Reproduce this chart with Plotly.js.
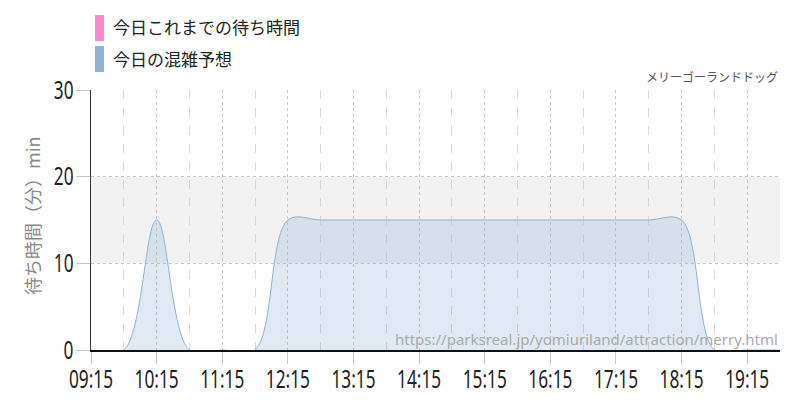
<!DOCTYPE html>
<html><head><meta charset="utf-8">
<script src="https://cdn.plot.ly/plotly-3.0.1.min.js"></script>
<style>body{margin:0;background:#fff}#c{width:800px;height:400px}</style>
</head><body><div id="c"></div>
<script>
const times = ['09:15','09:45','10:15','10:45','11:15','11:45','12:15','12:45','13:15','13:45','14:15','14:45','15:15','15:45','16:15','16:45','17:15','17:45','18:15','18:45','19:15','19:45'];
const forecast = [0,0,15,0,0,0,15,15,15,15,15,15,15,15,15,15,15,15,15,0,0,0];
const actualTimes = [];
const actual = [];
const legendNames = ['今日これまでの待ち時間','今日の混雑予想'];
const legendColors = ['#ff88cc','#8fb3d3'];
const attraction = 'メリーゴーランドドッグ';
const sourceUrl = 'https://parksreal.jp/yomiuriland/attraction/merry.html';
const yTitle = '待ち時間（分）min';
const yTicks = [0,10,20,30];
const day = '2024-01-01 ';

const tickFont = {family:'"Noto Sans","DejaVu Sans",sans-serif', size:25, color:'#222'};
const jp = '"Noto Sans CJK JP","Noto Sans",sans-serif';

const traces = [
  {x: times.map(t=>day+t), y: forecast, type:'scatter', mode:'lines', line:{shape:'spline', smoothing:1, color:'#8fb3d3', width:1}, fill:'tozeroy', fillcolor:'rgba(143,179,211,0.28)', hoverinfo:'skip', showlegend:false},
  {x: actualTimes.map(t=>day+t), y: actual, type:'scatter', mode:'lines', line:{color:'#ff88cc'}, showlegend:false}
];

const shapes = [
  {type:'rect', xref:'paper', x0:0, x1:1, yref:'y', y0:10, y1:20, fillcolor:'#f2f2f2', line:{width:0}, layer:'below'}
];
const annotations = [];
legendNames.forEach((n,i)=>{
  shapes.push({type:'rect', xref:'paper', yref:'paper', x0:(95-91)/689, x1:(104-91)/689, y0:(350-(15+i*31))/260, y1:(350-(41+i*31))/260, fillcolor:legendColors[i], line:{width:0}});
  annotations.push({xref:'paper', yref:'paper', x:(111-91)/689, y:(350-(27+i*32))/260, xanchor:'left', yanchor:'middle', text:n, showarrow:false, font:{family:jp, size:17, color:'#222'}});
});
annotations.push({xref:'paper', yref:'paper', x:1, y:(350-77)/260, xanchor:'right', yanchor:'middle', text:attraction, showarrow:false, font:{family:jp, size:12, color:'#555'}});
annotations.push({xref:'paper', yref:'paper', x:(780-91)/689, y:(350-339)/260, xanchor:'right', yanchor:'middle', text:sourceUrl, showarrow:false, font:{family:'"Noto Sans",sans-serif', size:15, color:'#aaa'}});
annotations.push({xref:'paper', yref:'paper', x:(32-91)/689, y:(350-215)/260, xanchor:'center', yanchor:'middle', textangle:-90, text:yTitle, showarrow:false, font:{family:jp, size:18, color:'#888'}});

const layout = {
  width:800, height:400,
  margin:{l:91, r:20, t:90, b:50},
  paper_bgcolor:'#fff', plot_bgcolor:'rgba(0,0,0,0)',
  showlegend:false,
  xaxis:{type:'date', range:[day+'09:15', day+'19:45'], tick0:day+'09:15', dtick:3600000, tickformat:'%H:%M', tickangle:0,
    showgrid:true, gridcolor:'#c8c8c8', griddash:'dot', gridwidth:1,
    ticks:'outside', ticklen:12, tickcolor:'#c8c8c8', tickfont:tickFont, ticklabelstandoff:-6,
    showline:true, linecolor:'#111', linewidth:1.5, zeroline:false,
    minor:{tick0:day+'09:45', dtick:1800000, showgrid:true, gridcolor:'#d8d8d8', griddash:'dash', gridwidth:1, ticks:''}},
  yaxis:{range:[0,30], tickvals:yTicks, showgrid:true, gridcolor:'#c8c8c8', griddash:'dot', gridwidth:1,
    ticks:'outside', ticklen:14, tickcolor:'#c8c8c8', tickfont:tickFont, ticklabelstandoff:-3,
    showline:true, linecolor:'#333', linewidth:1.5, zeroline:false},
  shapes, annotations
};
Plotly.newPlot('c', traces, layout, {displayModeBar:false, staticPlot:true}).then(gd => {
  gd.querySelectorAll('.xtick text, .ytick text').forEach(t => {
    const w = t.getComputedTextLength();
    t.setAttribute('textLength', (w * 0.69).toFixed(1));
    t.setAttribute('lengthAdjust', 'spacingAndGlyphs');
  });
});
</script></body></html>
